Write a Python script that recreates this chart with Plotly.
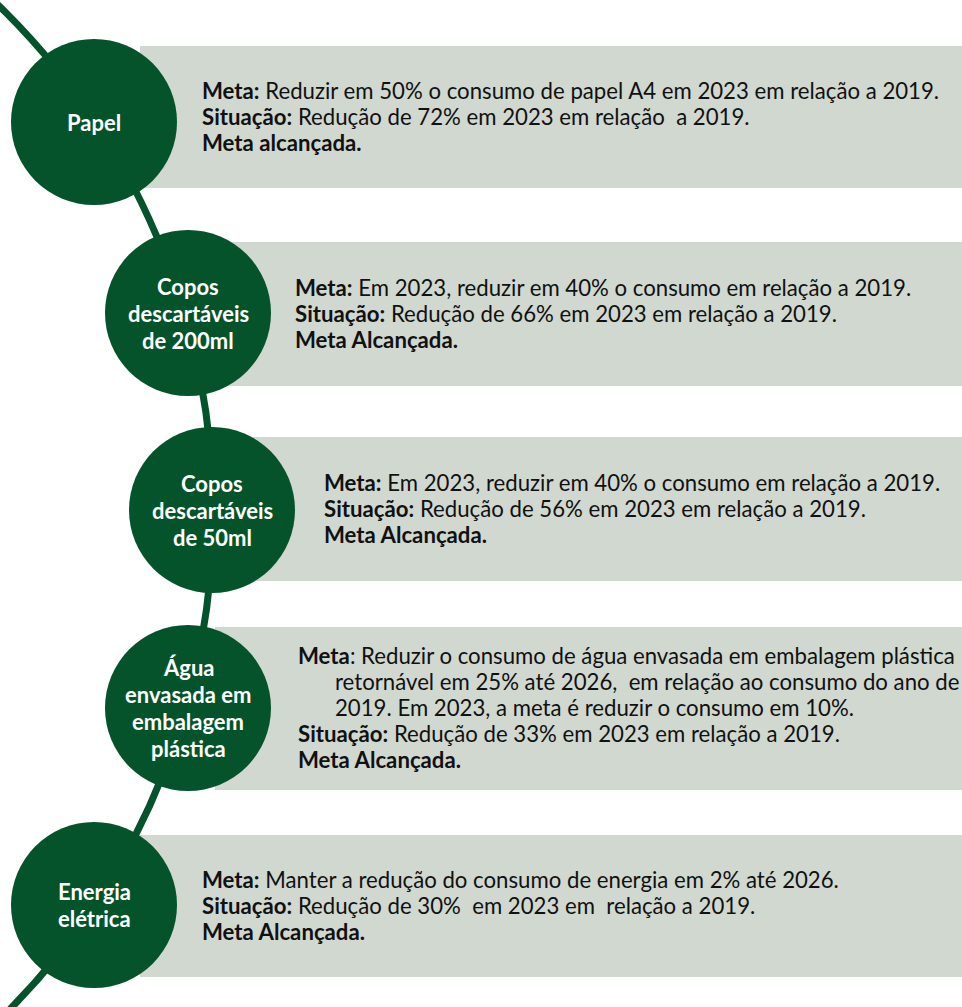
import plotly.graph_objects as go

# ---------------- data (text content) ----------------
categories = [
    ["Papel"],
    ["Copos", "descartáveis", "de 200ml"],
    ["Copos", "descartáveis", "de 50ml"],
    ["Água", "envasada em", "embalagem", "plástica"],
    ["Energia", "elétrica"],
]
meta_lines = [
    ["Reduzir em 50% o consumo de papel A4 em 2023 em relação a 2019."],
    ["Em 2023, reduzir em 40% o consumo em relação a 2019."],
    ["Em 2023, reduzir em 40% o consumo em relação a 2019."],
    ["Reduzir o consumo de água envasada em embalagem plástica",
     "retornável em 25% até 2026,&nbsp; em relação ao consumo do ano de",
     "2019. Em 2023, a meta é reduzir o consumo em 10%."],
    ["Manter a redução do consumo de energia em 2% até 2026."],
]
meta_colon_bold = [True, True, True, False, True]
situacao = [
    "Redução de 72% em 2023 em relação&nbsp; a 2019.",
    "Redução de 66% em 2023 em relação a 2019.",
    "Redução de 56% em 2023 em relação a 2019.",
    "Redução de 33% em 2023 em relação a 2019.",
    "Redução de 30%&nbsp; em 2023 em&nbsp; relação a 2019.",
]
status = ["Meta alcançada.", "Meta Alcançada.", "Meta Alcançada.",
          "Meta Alcançada.", "Meta Alcançada."]

# ---------------- layout geometry (pixels) ----------------
W, H = 962, 1007
circle_cx = [94, 188, 212, 188, 94]
circle_cy = [122, 313, 510, 708, 905]
R = 83
rect_x0 = [140, 215, 240, 215, 140]
rect_y = [(46, 188), (242, 386), (437, 581), (627, 790), (835, 977)]
text_x = [200, 293, 322, 296, 200]
indent_x = 333
line_h = 26
label_h = 27

DARK = "#04532A"
LIGHT = "#D0D8D0"
FONT = "Lato"
BODY_SIZE = 22.2
LABEL_SIZE = 22

shapes = []
# connecting arc (big circle, clipped by axes)
acx, acy, AR = -495, 513, 708
shapes.append(dict(type="circle", xref="x", yref="y",
                   x0=acx - AR, x1=acx + AR, y0=acy - AR, y1=acy + AR,
                   line=dict(color=DARK, width=7), fillcolor="rgba(0,0,0,0)",
                   layer="below"))
for i in range(5):
    y0, y1 = rect_y[i]
    shapes.append(dict(type="rect", xref="x", yref="y", x0=rect_x0[i], x1=W + 5,
                       y0=y0, y1=y1, line=dict(width=0), fillcolor=LIGHT,
                       layer="below"))
for i in range(5):
    shapes.append(dict(type="circle", xref="x", yref="y",
                       x0=circle_cx[i] - R, x1=circle_cx[i] + R,
                       y0=circle_cy[i] - R, y1=circle_cy[i] + R,
                       line=dict(width=0), fillcolor=DARK, layer="below"))

annotations = []
for i in range(5):
    # circle labels
    lines = categories[i]
    n = len(lines)
    for k, t in enumerate(lines):
        y = circle_cy[i] + (k - (n - 1) / 2) * label_h
        annotations.append(dict(x=circle_cx[i], y=y, xref="x", yref="y",
                                text="<b>" + t + "</b>", showarrow=False,
                                xanchor="center", yanchor="middle",
                                font=dict(family=FONT, size=LABEL_SIZE, color="white")))
    # body text
    body = []
    ml = meta_lines[i]
    for k, t in enumerate(ml):
        if k == 0:
            if meta_colon_bold[i]:
                body.append((text_x[i], "<b>Meta:</b> " + t))
            else:
                body.append((text_x[i], "<b>Meta</b>: " + t))
        else:
            body.append((indent_x, t))
    body.append((text_x[i], "<b>Situação:</b> " + situacao[i]))
    body.append((text_x[i], "<b>" + status[i] + "</b>"))
    nb = len(body)
    cy = (rect_y[i][0] + rect_y[i][1]) / 2 - 1
    for k, (x, t) in enumerate(body):
        y = cy + (k - (nb - 1) / 2) * line_h
        annotations.append(dict(x=x, y=y, xref="x", yref="y", text=t,
                                showarrow=False, xanchor="left", yanchor="middle",
                                font=dict(family=FONT, size=BODY_SIZE, color="#111111")))

fig = go.Figure()
fig.update_layout(
    width=W, height=H,
    margin=dict(l=0, r=0, t=0, b=0),
    paper_bgcolor="white", plot_bgcolor="white",
    xaxis=dict(range=[0, W], visible=False, fixedrange=True),
    yaxis=dict(range=[H, 0], visible=False, fixedrange=True),
    shapes=shapes, annotations=annotations, showlegend=False,
)
fig.write_html("out.html", config={"displayModeBar": False},
               post_script="document.body.style.margin='0px';document.body.style.overflow='hidden';")
